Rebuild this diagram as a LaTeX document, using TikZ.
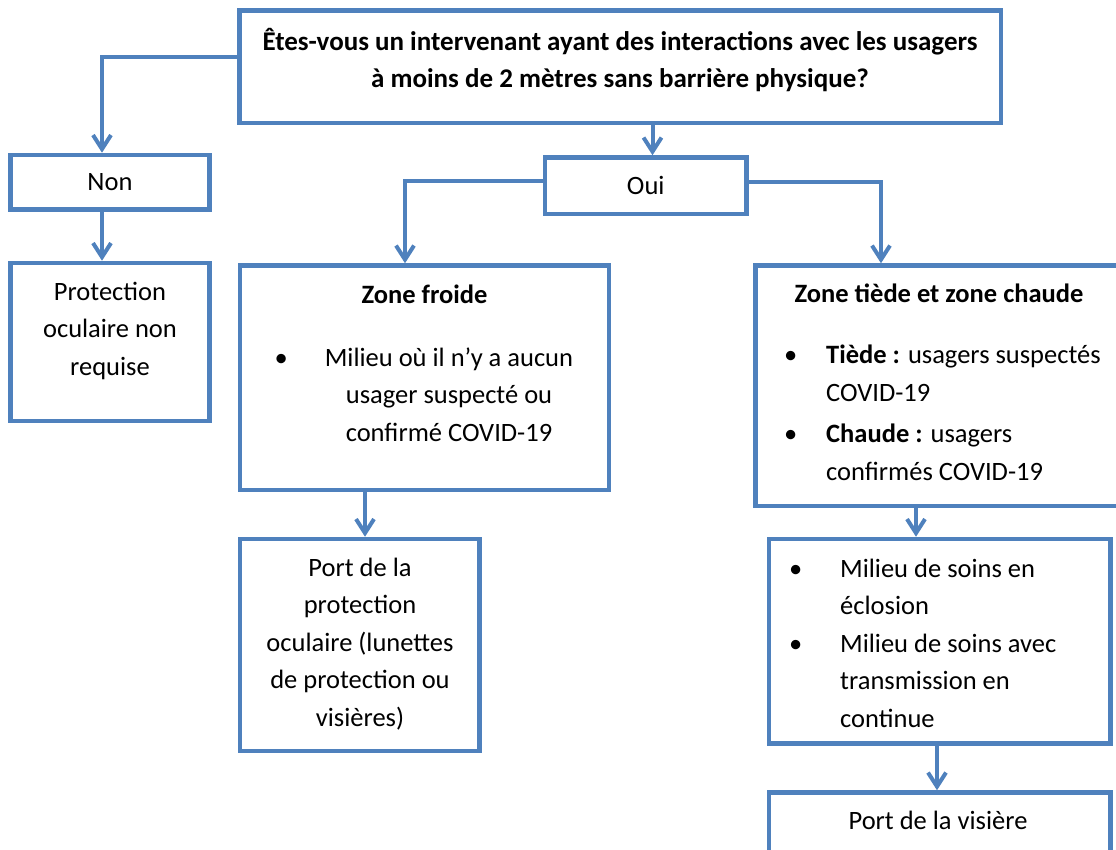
\documentclass[tikz,border=0pt]{standalone}
\usepackage{fontspec}
\setmainfont{Carlito}
\usetikzlibrary{arrows.meta}

\definecolor{bleu}{RGB}{79,129,189}
\newcommand{\puce}[1]{\makebox[0pt][r]{\textbullet\hspace{#1}}}

\tikzset{
    boite/.style={draw=bleu, line width=4.5pt, inner sep=0pt},
    texte/.style={inner sep=0pt, anchor=base, align=center},
    fleche/.style={draw=bleu, line width=4pt, -{Straight Barb[length=14pt, width=18pt]}}
}

\begin{document}
\begin{tikzpicture}[x=1pt, y=-1pt, font=\fontsize{26.5pt}{37.5pt}\selectfont]
        \useasboundingbox (0,0) rectangle (1116,850);

        % boites
        \node[boite, minimum width=761.5pt, minimum height=112.5pt] (haut) at (620.25,66.75) {};
        \node[boite, minimum width=199pt, minimum height=54.5pt] (non) at (110,182.25) {Non};
        \node[boite, minimum width=199pt, minimum height=158pt] (prot) at (110,342) {};
        \node[boite, minimum width=201.5pt, minimum height=56.5pt] (oui) at (645.75,185.75) {Oui};
        \node[boite, minimum width=369pt, minimum height=224.5pt] (froide) at (424.5,377.75) {};
        \node[boite, minimum width=239.5pt, minimum height=212pt] (portprot) at (359.75,645) {};
        \node[boite, minimum width=364.5pt, minimum height=240.5pt] (tiede) at (937.75,385.75) {};
        \node[boite, minimum width=341.5pt, minimum height=204.5pt] (milieu) at (939.75,641.25) {};
        \node[boite, minimum width=341.5pt, minimum height=77.5pt] (visiere) at (939.75,831.25) {};

        % textes (ancre sur la ligne de base de la derniere ligne)
        \node[texte, font=\fontsize{27pt}{37.5pt}\selectfont\bfseries] (t-haut) at (620,88)
            {Êtes-vous un intervenant ayant des interactions avec les usagers\\
             à moins de 2 mètres sans barrière physique?};
        \node[texte] (t-prot) at (110,375) {Protection\\oculaire non\\requise};
        \node[texte] (t-froide) at (424.5,303) {\textbf{Zone froide}};
        \node[texte] (t-froide2) at (449,441)
            {\puce{37pt}Milieu où il n’y a aucun\\usager suspecté ou\\confirmé COVID-19};
        \node[texte] (t-portprot) at (360,726)
            {Port de la\\protection\\oculaire (lunettes\\de protection ou\\visières)};
        \node[texte] (t-tiede) at (939,302) {\textbf{Zone tiède et zone chaude}};
        \node[texte, anchor=base west, align=left] (t-tiede2) at (826,480)
            {\puce{29pt}\textbf{Tiède :} usagers suspectés\\
             COVID-19\\[4pt]
             \puce{29pt}\textbf{Chaude :} usagers\\
             confirmés COVID-19};
        \node[texte, anchor=base west, align=left] (t-milieu) at (840,727)
            {\puce{38pt}Milieu de soins en\\
             éclosion\\
             \puce{38pt}Milieu de soins avec\\
             transmission en\\
             continue};
        \node[texte] (t-visiere) at (938,829) {Port de la visière};

        % fleches
        \draw[fleche] (haut.west |- 0,57) -| (non.north -| 102,0);
        \draw[fleche] (non.south -| 102,0) -- (prot.north -| 102,0);
        \draw[fleche] (haut.south -| 652.5,0) -- (oui.north -| 652.5,0);
        \draw[fleche] (oui.west |- 0,181) -| (froide.north -| 405,0);
        \draw[fleche] (oui.east |- 0,182) -| (tiede.north -| 881,0);
        \draw[fleche] (froide.south -| 365,0) -- (portprot.north -| 365,0);
        \draw[fleche] (tiede.south -| 916,0) -- (milieu.north -| 916,0);
        \draw[fleche] (milieu.south -| 937,0) -- (visiere.north -| 937,0);
\end{tikzpicture}
\end{document}
